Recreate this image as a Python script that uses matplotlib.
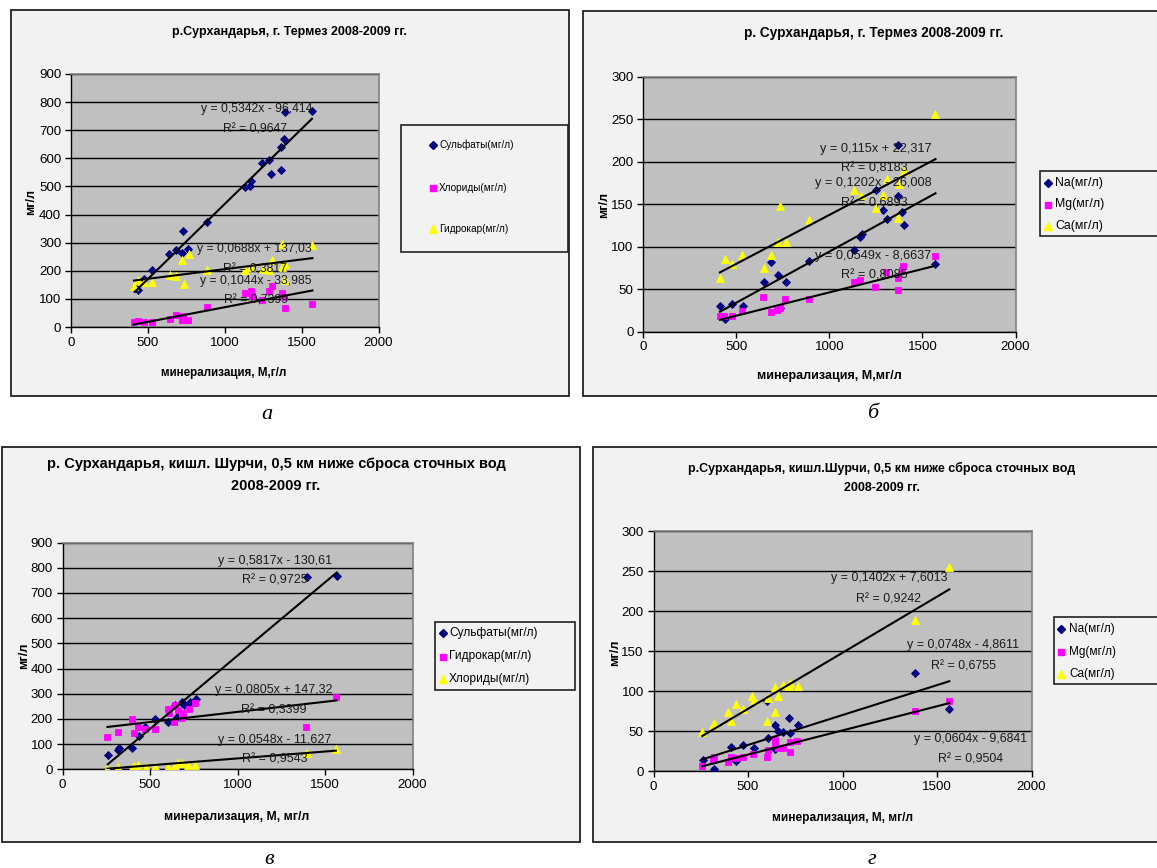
import numpy as np
import matplotlib
matplotlib.use("Agg")
import matplotlib.pyplot as plt
from matplotlib.patches import Rectangle
from matplotlib.lines import Line2D

plt.rcParams['font.family'] = ['Liberation Sans Narrow', 'Liberation Sans', 'DejaVu Sans']

# ---------------- data ----------------
# Panel a: р.Сурхандарья, г. Термез (anions)
a_sulf_x = [415, 437, 474, 526, 638, 680, 721, 729, 760, 883, 1132, 1165, 1169, 1242, 1286, 1301, 1366, 1368, 1387, 1394, 1567]
a_sulf_y = [140, 130, 172, 202, 261, 273, 265, 342, 279, 372, 497, 501, 519, 582, 595, 546, 639, 560, 667, 766, 769]
a_chl_x = [407, 435, 472, 530, 646, 681, 722, 730, 762, 885, 1134, 1168, 1175, 1245, 1289, 1308, 1370, 1385, 1394, 1570]
a_chl_y = [17, 20, 17, 19, 30, 41, 25, 40, 24, 71, 121, 127, 110, 96, 127, 146, 121, 108, 68, 83]
a_hyd_x = [410, 437, 478, 530, 646, 681, 722, 734, 766, 885, 1134, 1168, 1250, 1289, 1308, 1370, 1370, 1394, 1394, 1570]
a_hyd_y = [145, 168, 160, 160, 184, 180, 237, 152, 261, 204, 202, 213, 208, 202, 240, 296, 213, 225, 166, 290]

# Panel б: р. Сурхандарья, г. Термез (cations)
b_na_x = [412, 437, 478, 534, 646, 688, 725, 734, 765, 891, 1133, 1166, 1176, 1250, 1287, 1307, 1368, 1370, 1390, 1399, 1570]
b_na_y = [30, 15, 33, 30, 58, 82, 67, 28, 58, 83, 96, 111, 115, 167, 143, 132, 159, 219, 141, 126, 79]
b_mg_x = [412, 433, 476, 530, 645, 686, 721, 736, 761, 891, 1133, 1166, 1246, 1303, 1366, 1370, 1388, 1397, 1568]
b_mg_y = [18.5, 18.5, 18.5, 24, 40.5, 23, 25.6, 27.6, 38, 38, 59, 61, 52, 70, 49, 63, 72, 77, 88.6]
b_ca_x = [412, 437, 476, 532, 648, 688, 725, 737, 765, 891, 1133, 1169, 1250, 1286, 1307, 1370, 1375, 1400, 1570]
b_ca_y = [63, 85, 79, 90.5, 75, 90.5, 106, 148, 106, 131, 167, 159, 145, 161, 179, 134, 174, 189, 256]

# Panel в: р. Сурхандарья, кишл. Шурчи (anions)
c_sulf_x = [259, 318, 323, 399, 435, 473, 531, 605, 643, 654, 684, 694, 726, 764, 1397, 1567]
c_sulf_y = [57, 77, 83, 83, 132, 166, 198, 189, 255, 209, 268, 255, 266, 278, 764, 768]
c_hyd_x = [257, 316, 396, 407, 434, 472, 529, 605, 609, 639, 643, 662, 681, 687, 723, 759, 1389, 1565]
c_hyd_y = [130, 148, 201, 145, 169, 161, 161, 238, 222, 188, 254, 235, 204, 222, 238, 262, 169, 288]
c_chl_x = [257, 316, 396, 407, 434, 476, 529, 605, 643, 662, 685, 715, 757, 1395, 1562]
c_chl_y = [0, 10, 4, 13, 17, 10, 14, 10, 18, 24, 24, 17, 16, 63, 79]

# Panel г: р.Сурхандарья, кишл.Шурчи (cations)
d_na_x = [260, 321, 412, 435, 473, 530, 600, 608, 643, 645, 661, 687, 719, 722, 763, 1385, 1565]
d_na_y = [14, 2.5, 30, 13, 33, 29, 87, 41, 57, 27, 50, 49, 66, 47, 58, 123, 78]
d_mg_x = [258, 316, 321, 395, 412, 435, 473, 526, 600, 608, 643, 645, 661, 684, 721, 722, 761, 1385, 1565]
d_mg_y = [6, 14, 18, 11, 18, 16, 17, 21, 18, 26, 39, 33, 29, 29, 24, 36, 38, 75, 88]
d_ca_x = [258, 316, 321, 395, 412, 435, 473, 523, 530, 600, 608, 643, 645, 661, 684, 719, 724, 763, 1385, 1565]
d_ca_y = [49, 57, 60, 74, 62, 84, 77, 94, 89, 62, 91, 105, 74, 94, 108, 106, 110, 106, 189, 255]

# trend-line coefficients (slope, intercept) and their labels
a_trends = [(0.5342, -96.414, "y = 0,5342x - 96,414", "R² = 0,9647"),
            (0.0688, 137.03, "y = 0,0688x + 137,03", "R² = 0,3817"),
            (0.1044, -33.985, "y = 0,1044x - 33,985", "R² = 0,7399")]
b_trends = [(0.115, 22.317, "y = 0,115x + 22,317", "R² = 0,8183"),
            (0.1202, -26.008, "y = 0,1202x - 26,008", "R² = 0,6893"),
            (0.0549, -8.6637, "y = 0,0549x - 8,6637", "R² = 0,8085")]
c_trends = [(0.5817, -130.61, "y = 0,5817x - 130,61", "R² = 0,9725"),
            (0.0805, 147.32, "y = 0,0805x + 147,32", "R² = 0,3399"),
            (0.0548, -11.627, "y = 0,0548x - 11,627", "R² = 0,9543")]
d_trends = [(0.1402, 7.6013, "y = 0,1402x + 7,6013", "R² = 0,9242"),
            (0.0748, -4.8611, "y = 0,0748x - 4,8611", "R² = 0,6755"),
            (0.0604, -9.6841, "y = 0,0604x - 9,6841", "R² = 0,9504")]

x_ticks = [0, 500, 1000, 1500, 2000]
y_ticks_900 = [0, 100, 200, 300, 400, 500, 600, 700, 800, 900]
y_ticks_300 = [0, 50, 100, 150, 200, 250, 300]

# ---------------- styles ----------------
NAVY = dict(marker='D', ms=3.8, color='#000080')
MAG = dict(marker='s', ms=4.5, color='#ff00ff')
YEL = dict(marker='^', ms=5.5, color='#ffff00')

W, H = 1157, 868
fig = plt.figure(figsize=(W / 100, H / 100), dpi=100, facecolor='white')


def fx(px):
    return px / W


def fy(py):
    return 1 - py / H


def frame(x0, y0, x1, y1):
    fig.add_artist(Rectangle((fx(x0), fy(y1)), (x1 - x0) / W, (y1 - y0) / H,
                             transform=fig.transFigure, facecolor='#f2f2f2',
                             edgecolor='#222222', lw=1.3, zorder=0))


def make_axes(x0, x1, y0, y1, yticks):
    ax = fig.add_axes([fx(x0), fy(y1), (x1 - x0) / W, (y1 - y0) / H])
    ax.set_facecolor('#c0c0c0')
    ax.set_xlim(0, 2000)
    ax.set_ylim(yticks[0], yticks[-1])
    ax.set_xticks(x_ticks)
    ax.set_yticks(yticks)
    ax.yaxis.grid(True, color='black', lw=1.0)
    ax.set_axisbelow(True)
    for s in ('top', 'right'):
        ax.spines[s].set_color('#808080')
        ax.spines[s].set_linewidth(1.2)
    for s in ('left', 'bottom'):
        ax.spines[s].set_color('black')
        ax.spines[s].set_linewidth(1.0)
    ax.tick_params(direction='out', length=4, width=1, labelsize=9.6, pad=3)
    return ax


def series(ax, x, y, sty):
    ax.plot(x, y, ls='none', marker=sty['marker'], ms=sty['ms'],
            mfc=sty['color'], mec=sty['color'], mew=0.6, zorder=3)


def trend(ax, x, coef):
    xs = np.array([min(x), max(x)], dtype=float)
    ax.plot(xs, coef[0] * xs + coef[1], color='black', lw=1.5, zorder=4)


def trend_label(ax, coef, pos_eq, pos_r, fs):
    ax.text(pos_eq[0], pos_eq[1], coef[2], ha='center', va='center', fontsize=fs,
            color='#1a1a1a', zorder=5)
    ax.text(pos_r[0], pos_r[1], coef[3], ha='center', va='center', fontsize=fs,
            color='#1a1a1a', zorder=5)


def legend(x0, y0, x1, y1, mx, tx, rows, fs):
    fig.add_artist(Rectangle((fx(x0), fy(y1)), (x1 - x0) / W, (y1 - y0) / H,
                             transform=fig.transFigure, facecolor='#f2f2f2',
                             edgecolor='#222222', lw=1.2, zorder=1))
    for label, sty, py in rows:
        fig.add_artist(Line2D([fx(mx)], [fy(py)], transform=fig.transFigure, ls='none',
                              marker=sty['marker'], ms=sty['ms'], mfc=sty['color'],
                              mec=sty['color'], zorder=2))
        fig.text(fx(tx), fy(py), label, ha='left', va='center', fontsize=fs, zorder=2)


def ftext(px, py, s, **kw):
    fig.text(fx(px), fy(py), s, ha='center', va='center', **kw)


serif = ['Liberation Serif', 'DejaVu Serif']

# ================= Panel а =================
frame(10.5, 10, 569, 396)
ax = make_axes(71, 378.5, 74, 327, y_ticks_900)
series(ax, a_sulf_x, a_sulf_y, NAVY)
series(ax, a_chl_x, a_chl_y, MAG)
series(ax, a_hyd_x, a_hyd_y, YEL)
trend(ax, a_sulf_x, a_trends[0])
trend(ax, a_hyd_x, a_trends[1])
trend(ax, a_chl_x, a_trends[2])
trend_label(ax, a_trends[0], (1206, 774), (1199, 703), 8.7)
trend_label(ax, a_trends[1], (1190, 279), (1195, 204), 8.7)
trend_label(ax, a_trends[2], (1199, 164), (1201, 93), 8.7)
ftext(289, 32, "р.Сурхандарья, г. Термез 2008-2009 гг.", fontsize=9, fontweight='bold')
ftext(224, 373, "минерализация, М,г/л", fontsize=8.4, fontweight='bold')
ftext(31, 202, "мг/л", fontsize=9, fontweight='bold', rotation=90)
legend(401, 125, 568, 252, 433, 439,
       [("Сульфаты(мг/л)", NAVY, 145), ("Хлориды(мг/л)", MAG, 188), ("Гидрокар(мг/л)", YEL, 229)], 7.2)
ftext(267, 415, "а", fontsize=16, style='italic', family=serif)

# ================= Panel б =================
frame(583, 11, 1160, 396)
ax = make_axes(643.3, 1015.5, 76.5, 331.7, y_ticks_300)
series(ax, b_na_x, b_na_y, NAVY)
series(ax, b_mg_x, b_mg_y, MAG)
series(ax, b_ca_x, b_ca_y, YEL)
trend(ax, b_ca_x, b_trends[0])
trend(ax, b_na_x, b_trends[1])
trend(ax, b_mg_x, b_trends[2])
trend_label(ax, b_trends[0], (1250, 215), (1244, 192), 9.2)
trend_label(ax, b_trends[1], (1235, 175), (1241, 151), 9.2)
trend_label(ax, b_trends[2], (1235, 88.6), (1241, 66), 9.2)
ftext(874, 33, "р. Сурхандарья, г. Термез 2008-2009 гг.", fontsize=9.8, fontweight='bold')
ftext(829, 376, "минерализация, М,мг/л", fontsize=9.0, fontweight='bold')
ftext(604, 205, "мг/л", fontsize=9, fontweight='bold', rotation=90)
legend(1040, 171, 1162, 236, 1048, 1055,
       [("Na(мг/л)", NAVY, 183), ("Mg(мг/л)", MAG, 204.5), ("Ca(мг/л)", YEL, 226)], 8.9)
ftext(873, 413, "б", fontsize=16, style='italic', family=serif)

# ================= Panel в =================
frame(2, 447, 580, 842)
ax = make_axes(62.5, 412.5, 542.5, 769.3, y_ticks_900)
series(ax, c_sulf_x, c_sulf_y, NAVY)
series(ax, c_hyd_x, c_hyd_y, MAG)
series(ax, c_chl_x, c_chl_y, YEL)
trend(ax, c_sulf_x, c_trends[0])
trend(ax, c_hyd_x, c_trends[1])
trend(ax, c_chl_x, c_trends[2])
trend_label(ax, c_trends[0], (1214, 828), (1214, 749), 9.0)
trend_label(ax, c_trends[1], (1205, 315), (1205, 235), 9.0)
trend_label(ax, c_trends[2], (1214, 116), (1214, 37), 9.0)
ftext(276, 464, "р. Сурхандарья, кишл. Шурчи, 0,5 км ниже сброса сточных вод", fontsize=10.5, fontweight='bold')
ftext(276, 486, "2008-2009 гг.", fontsize=10.5, fontweight='bold')
ftext(237, 817, "минерализация, М, мг/л", fontsize=8.8, fontweight='bold')
ftext(24, 656, "мг/л", fontsize=9.2, fontweight='bold', rotation=90)
legend(435, 622, 575, 690, 443, 449,
       [("Сульфаты(мг/л)", NAVY, 633), ("Гидрокар(мг/л)", MAG, 656.5), ("Хлориды(мг/л)", YEL, 679)], 8.6)
ftext(269, 860, "в", fontsize=16, style='italic', family=serif)

# ================= Panel г =================
frame(593, 447, 1160, 842)
ax = make_axes(653.5, 1031.5, 531, 771, y_ticks_300)
series(ax, d_na_x, d_na_y, NAVY)
series(ax, d_mg_x, d_mg_y, MAG)
series(ax, d_ca_x, d_ca_y, YEL)
trend(ax, d_ca_x, d_trends[0])
trend(ax, d_na_x, d_trends[1])
trend(ax, d_mg_x, d_trends[2])
trend_label(ax, d_trends[0], (1245, 241), (1245, 215), 8.9)
trend_label(ax, d_trends[1], (1640, 157), (1640, 131), 8.9)
trend_label(ax, d_trends[2], (1675, 40), (1675, 14.6), 8.9)
ftext(882, 468, "р.Сурхандарья, кишл.Шурчи, 0,5 км ниже сброса сточных вод", fontsize=9.0, fontweight='bold')
ftext(882, 488, "2008-2009 гг.", fontsize=9.0, fontweight='bold')
ftext(842, 818, "минерализация, М, мг/л", fontsize=8.6, fontweight='bold')
ftext(615, 653, "мг/л", fontsize=9.2, fontweight='bold', rotation=90)
legend(1054, 617, 1162, 684, 1061, 1069,
       [("Na(мг/л)", NAVY, 629), ("Mg(мг/л)", MAG, 652), ("Ca(мг/л)", YEL, 674)], 8.5)
ftext(872, 860, "г", fontsize=16, style='italic', family=serif)

fig.savefig("out.png", dpi=100, facecolor='white')
